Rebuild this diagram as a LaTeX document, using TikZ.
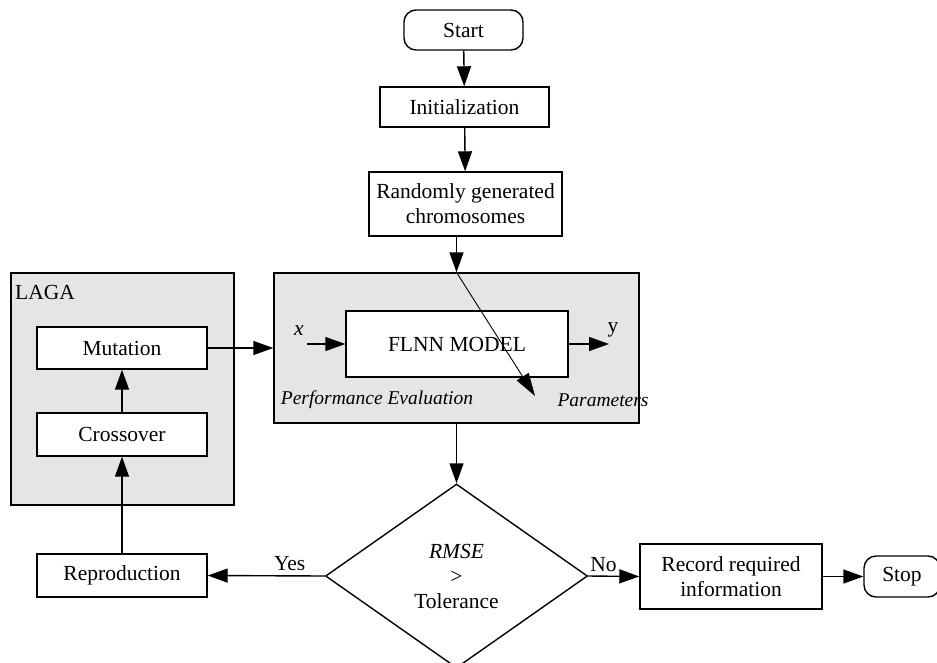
\documentclass[tikz,border=0pt]{standalone}
\usepackage{fontspec}
\setmainfont{Liberation Serif}
\usetikzlibrary{arrows.meta,shapes.geometric}
\begin{document}
\begin{tikzpicture}[x=1pt,y=-1pt,
  every node/.style={font=\fontsize{21.5}{25}\selectfont, inner sep=0pt},
  box/.style={draw, line width=1.4pt, fill=white, minimum width=#1, align=center},
  graybox/.style={draw, line width=1.4pt, fill=gray!20},
  term/.style={draw, line width=1.4pt, rounded corners=12pt, fill=white},
  arr/.style={line width=1.4pt, -{Triangle[length=20pt,width=14pt]}},
  thinarr/.style={line width=0.9pt, -{Triangle[length=23pt,width=14pt]}},
  lbl/.style={font=\fontsize{21.5}{25}\selectfont},
  ilbl/.style={font=\fontsize{19.5}{23}\selectfont\itshape}]
\useasboundingbox (0,0) rectangle (937,662);
% gray containers
\node[graybox, minimum width=365pt, minimum height=150pt] (perf) at (456.5,348) {};
\node[graybox, minimum width=223pt, minimum height=232pt] (laga) at (122.5,389) {};
\node[lbl, anchor=base west] (lagalbl) at (15,299) {LAGA};
% nodes
\node[term, minimum width=119pt, minimum height=40pt] (start) at (463.5,30) {Start};
\node[box=169pt, minimum height=40pt] (init) at (464.5,107) {Initialization};
\node[box=193pt, minimum height=64pt] (rand) at (465.5,204) {Randomly generated\\chromosomes};
\node[box=222pt, minimum height=66pt] (flnn) at (457,344) {FLNN MODEL};
\node[box=170pt, minimum height=42pt] (mut) at (122,348) {Mutation};
\node[box=170pt, minimum height=43pt] (cross) at (122,434.5) {Crossover};
\node[box=170pt, minimum height=43pt] (repro) at (122,575.5) {Reproduction};
\node[draw, line width=1.4pt, diamond, minimum width=262pt, minimum height=184pt, align=center] (dia) at (456.5,576) {\textit{RMSE}\\>\\Tolerance};
\node[box=182pt, minimum height=65pt] (record) at (731,576.5) {Record required\\information};
\node[term, minimum width=76pt, minimum height=41pt] (stop) at (902,576.5) {Stop};
% labels in performance box
\node[ilbl] (pe) at (377,400) {Performance Evaluation};
\node[ilbl] (par) at (603,400) {Parameters};
\node[ilbl, font=\fontsize{21.5}{25}\selectfont\itshape] (xl) at (299,331) {x};
\node[lbl] (yl) at (613,330) {y};
\coordinate (xin) at (307,344);
\coordinate (yout) at (609,344);
\coordinate (ptip) at (535,396);
% connectors
\draw[arr] (start) -- (init);
\draw[arr] (init) -- (rand);
\draw[arr] (rand.south -| perf.north) -- (perf.north);
\draw[thinarr] (perf.north) -- (ptip);
\draw[arr] (mut.east) -- (perf.west);
\draw[arr] (xin) -- (flnn.west);
\draw[arr] (flnn.east) -- (yout);
\draw[arr] (perf.south) -- (dia.north);
\draw[arr] (dia.west) -- node[lbl, above=4pt, pos=0.3] (yes) {Yes} (repro.east);
\draw[arr] (dia.east) -- node[lbl, above=4pt, pos=0.3] (no) {No} (record.west);
\draw[arr] (record.east) -- (stop.west);
\draw[arr] (repro.north) -- (cross.south);
\draw[arr] (cross.north) -- (mut.south);
\end{tikzpicture}
\end{document}
